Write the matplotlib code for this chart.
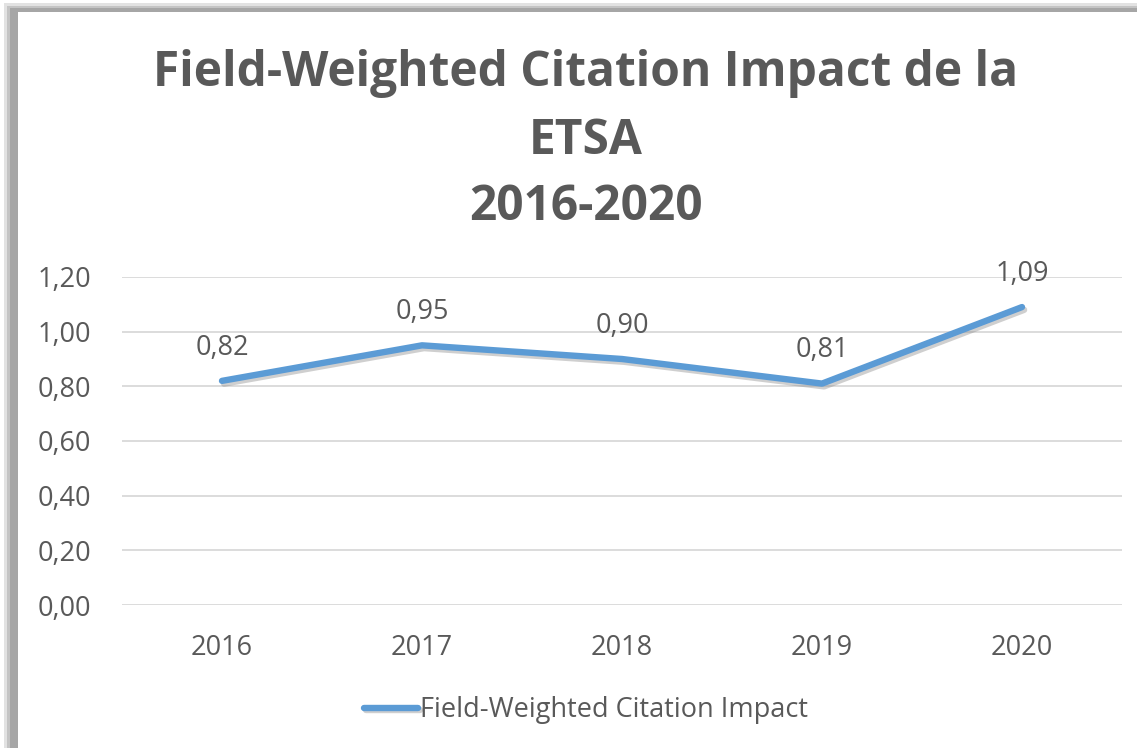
import matplotlib
matplotlib.use("Agg")
import matplotlib.pyplot as plt
from matplotlib.patches import Rectangle
from matplotlib.ticker import FuncFormatter, MultipleLocator
import matplotlib.patheffects as pe

years = ["2016", "2017", "2018", "2019", "2020"]
fwci = [0.82, 0.95, 0.90, 0.81, 1.09]
series_name = "Field-Weighted Citation Impact"
title_lines = ["Field-Weighted Citation Impact de la", "ETSA", "2016-2020"]

W, H = 1137, 748
fig = plt.figure(figsize=(W / 100, H / 100), dpi=100)
fig.patch.set_facecolor("white")

# frame shadow (left & top)
def frect(x0, y0, x1, y1, color, z):
    fig.patches.append(Rectangle((x0 / W, 1 - y1 / H), (x1 - x0) / W, (y1 - y0) / H,
                                 transform=fig.transFigure, facecolor=color,
                                 edgecolor="none", zorder=z))

frect(4, 3, W, H, "#e2e2e2", -5)
frect(7, 6, W, H, "#c4c4c4", -4)
frect(10, 8, W, H, "#a6a6a6", -3)
frect(18, 12, W, H, "white", -2)

font = "Open Sans"
grey = "#595959"
fs = 19.5

ax = fig.add_axes([122 / W, 1 - 605 / H, 1000 / W, (605 - 277) / H])
ax.set_facecolor("none")
x = list(range(len(years)))
ax.plot(x, fwci, color="#5B9BD5", lw=4.6, solid_capstyle="round", solid_joinstyle="round",
        zorder=3, label=series_name,
        path_effects=[pe.SimpleLineShadow(offset=(1.5, -2), shadow_color="#888888", alpha=0.4),
                      pe.Normal()])
ax.set_xlim(-0.5, len(years) - 0.5)
ax.set_ylim(0, 1.2)
ax.yaxis.set_major_locator(MultipleLocator(0.2))
ax.yaxis.set_major_formatter(FuncFormatter(lambda v, p: f"{v:.2f}".replace(".", ",")))
ax.set_xticks(x)
ax.set_xticklabels(years)
ax.grid(axis="y", color="#d9d9d9", lw=1.3)
ax.set_axisbelow(True)
for s in ax.spines.values():
    s.set_visible(False)
ax.tick_params(length=0, labelsize=fs, labelcolor=grey)
ax.tick_params(axis="y", pad=22)
ax.tick_params(axis="x", pad=21)
for lab in ax.get_xticklabels() + ax.get_yticklabels():
    lab.set_fontfamily(font)

for xi, v in zip(x, fwci):
    ax.annotate(f"{v:.2f}".replace(".", ","), (xi, v), xytext=(0, 24), textcoords="offset points",
                ha="center", va="center", fontsize=fs, color=grey, family=font)

for yy, line in zip([73, 141, 208], title_lines):
    fig.text(586 / W, 1 - yy / H, line, ha="center", va="center", fontsize=34.5,
             fontweight="bold", color=grey, family=font)

leg = fig.legend(handles=ax.get_lines(), loc="center", bbox_to_anchor=(586 / W, 1 - 710 / H),
                 frameon=False, prop={"family": font, "size": fs}, handlelength=2.0,
                 handletextpad=0.1)
for t in leg.get_texts():
    t.set_color(grey)

fig.savefig("out.png", dpi=100)
